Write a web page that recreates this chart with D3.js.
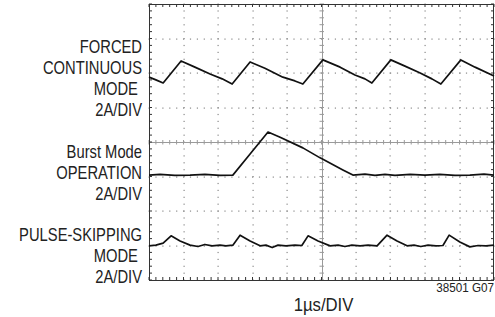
<!DOCTYPE html>
<html lang="en">
<meta charset="utf-8">
<title>Inductor current waveforms</title>
<style>
  body { margin: 0; background: #fff; }
  text { font-family: "Liberation Sans", Arial, sans-serif; fill: #222; }
</style>
<body>
<script src="https://d3js.org/d3.v7.min.js"></script>
<script>
  // time in us (1us/DIV), current in divisions from centre line (2A/DIV)
  var forcedT = [0.00, 0.20, 0.41, 0.93, 1.33, 1.77, 2.12, 2.41, 2.93, 3.36, 3.88, 4.23, 4.46, 5.04, 5.54, 5.97, 6.26, 6.46, 7.01, 7.42, 7.86, 8.20, 8.46, 9.04, 9.45, 10.0];
  var forcedV = [1.88, 1.80, 1.71, 2.35, 2.17, 1.97, 1.83, 1.68, 2.32, 2.14, 1.88, 1.77, 1.68, 2.38, 2.17, 1.94, 1.83, 1.71, 2.38, 2.20, 2.00, 1.83, 1.68, 2.38, 2.17, 1.91];

  var burstT = [0.00, 0.32, 0.75, 1.19, 1.62, 2.06, 2.43, 2.93, 3.45, 3.80, 4.46, 4.96, 5.62, 5.91, 6.26, 6.55, 6.84, 7.13, 7.57, 8.00, 8.43, 8.87, 9.30, 9.71, 10.0];
  var burstV = [-0.96, -0.94, -0.97, -0.96, -0.94, -0.97, -0.96, -0.35, 0.29, 0.14, -0.17, -0.46, -0.81, -0.96, -0.93, -0.97, -0.94, -0.97, -0.94, -0.96, -0.94, -0.97, -0.96, -0.93, -0.96];

  var pulseT = [0.00, 0.20, 0.41, 0.64, 0.90, 1.19, 1.42, 1.62, 1.83, 2.06, 2.23, 2.43, 2.64, 2.93, 3.22, 3.39, 3.57, 3.74, 3.97, 4.23, 4.43, 4.61, 4.90, 5.25, 5.48, 5.68, 5.88, 6.12, 6.35, 6.61, 6.90, 7.19, 7.48, 7.68, 7.88, 8.09, 8.32, 8.52, 8.70, 9.01, 9.30, 9.54, 9.77, 10.0];
  var pulseV = [-3.01, -2.99, -2.93, -2.72, -2.87, -2.99, -3.03, -2.97, -3.01, -2.99, -3.01, -2.99, -2.70, -2.87, -3.01, -2.99, -3.06, -2.99, -3.01, -2.99, -3.00, -2.72, -2.87, -3.01, -2.99, -3.03, -2.99, -3.01, -2.99, -3.01, -2.70, -2.87, -3.01, -2.99, -3.03, -2.99, -3.01, -3.00, -2.70, -2.90, -3.04, -3.00, -3.01, -2.99];

  var labels = [
    { lines: ["FORCED", "CONTINUOUS", "MODE\u00a0", "2A/DIV"], y: 53 },
    { lines: ["Burst Mode", "OPERATION", "2A/DIV"], y: 158 },
    { lines: ["PULSE-SKIPPING", "MODE\u00a0", "2A/DIV"], y: 241 }
  ];

  var W = 495, H = 317;
  // plot box (note: "top" is reserved on window, so use pTop etc.)
  var pLeft = 149, pRight = 494, pTop = 4, pBottom = 280;

  var x = d3.scaleLinear().domain([0, 10]).range([pLeft, pRight]);
  var y = d3.scaleLinear().domain([-4, 4]).range([pBottom, pTop]);

  var svg = d3.select("body").append("svg")
    .attr("width", W)
    .attr("height", H);

  // dotted graticule, dot every 1/5 division
  var minor = d3.range(0, 51).map(function(i) { return i / 5; });
  var minorY = d3.range(-20, 21).map(function(i) { return i / 5; });
  var grid = svg.append("g").attr("fill", "#8a8a8a");
  d3.range(1, 10).forEach(function(t) {
    if (t === 5) return;
    minorY.forEach(function(v) {
      grid.append("rect").attr("x", Math.round(x(t)) - 0.5).attr("y", y(v) - 0.5).attr("width", 1.2).attr("height", 1.2);
    });
  });
  d3.range(-3, 4).forEach(function(v) {
    if (v === 0) return;
    minor.forEach(function(t) {
      grid.append("rect").attr("x", x(t) - 0.5).attr("y", Math.round(y(v)) - 0.5).attr("width", 1.2).attr("height", 1.2);
    });
  });

  // centre crosshair with minor ticks
  var cross = svg.append("g").attr("stroke", "#9a9a9a").attr("stroke-width", 1);
  cross.append("line").attr("x1", x(0)).attr("x2", x(10)).attr("y1", Math.round(y(0)) + 0.5).attr("y2", Math.round(y(0)) + 0.5);
  cross.append("line").attr("y1", y(-4)).attr("y2", y(4)).attr("x1", Math.round(x(5)) + 0.5).attr("x2", Math.round(x(5)) + 0.5);
  minor.forEach(function(t) {
    cross.append("line").attr("x1", x(t)).attr("x2", x(t)).attr("y1", y(0) - 2).attr("y2", y(0) + 2.5);
  });
  minorY.forEach(function(v) {
    cross.append("line").attr("y1", y(v)).attr("y2", y(v)).attr("x1", x(5) - 2).attr("x2", x(5) + 2.5);
  });

  // frame with inward ticks
  var frame = svg.append("g").attr("stroke", "#333").attr("stroke-width", 1);
  frame.append("rect").attr("x", pLeft + 0.5).attr("y", pTop + 0.5)
    .attr("width", pRight - pLeft - 1).attr("height", pBottom - pTop)
    .attr("fill", "none");
  minor.forEach(function(t) {
    frame.append("line").attr("x1", x(t)).attr("x2", x(t)).attr("y1", pTop).attr("y2", pTop + 3);
    frame.append("line").attr("x1", x(t)).attr("x2", x(t)).attr("y1", pBottom).attr("y2", pBottom - 3);
  });
  minorY.forEach(function(v) {
    frame.append("line").attr("y1", y(v)).attr("y2", y(v)).attr("x1", pLeft).attr("x2", pLeft + 3);
    frame.append("line").attr("y1", y(v)).attr("y2", y(v)).attr("x1", pRight).attr("x2", pRight - 3);
  });

  // traces
  var line = d3.line()
    .x(function(d) { return x(d[0]); })
    .y(function(d) { return y(d[1]); });

  [[forcedT, forcedV], [burstT, burstV], [pulseT, pulseV]].forEach(function(s) {
    svg.append("path")
      .datum(d3.zip(s[0], s[1]))
      .attr("fill", "none")
      .attr("stroke", "#111")
      .attr("stroke-width", 1.7)
      .attr("stroke-linejoin", "round")
      .attr("d", line);
  });

  // condensed text: squeeze a normal sans horizontally
  function label(px, py, s, size, anchor, sx) {
    svg.append("text")
      .attr("transform", "translate(" + px + "," + py + ") scale(" + sx + ",1)")
      .attr("text-anchor", anchor)
      .attr("font-size", size)
      .text(s);
  }

  labels.forEach(function(l) {
    l.lines.forEach(function(s, i) {
      label(142, l.y + i * 21, s, 18, "end", 0.82);
    });
  });

  label(x(5) + 2, 311, "1\u00b5s/DIV", 19, "middle", 0.88);
  label(494, 292, "38501 G07", 13, "end", 0.9);
</script>
</body>
</html>
